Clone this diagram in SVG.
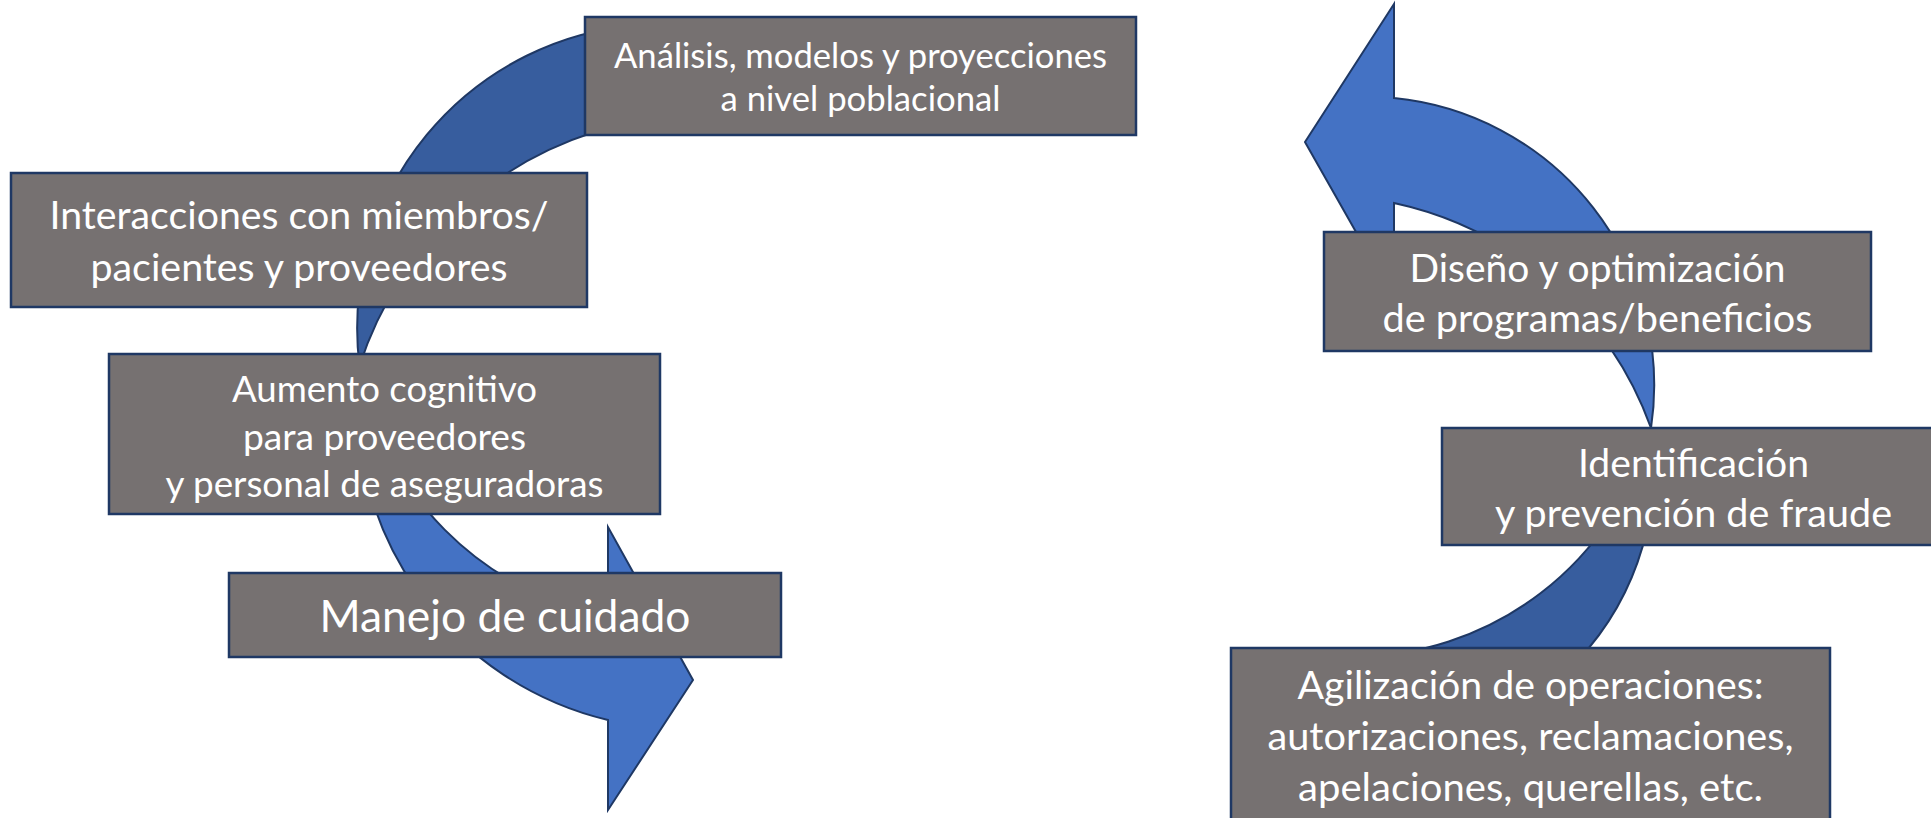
<svg xmlns="http://www.w3.org/2000/svg" width="1931" height="818" viewBox="0 0 1931 818">
<style>
.light{fill:#4472C4;stroke:#1F3864;stroke-width:2;stroke-linejoin:miter}
.dark{fill:#375D9E;stroke:#1F3864;stroke-width:2;stroke-linejoin:miter}
.box{fill:#767171;stroke:#1F3864;stroke-width:2.5}
.t{fill:#FFFFFF;font-family:Lato,"Open Sans","Liberation Sans",sans-serif;text-anchor:middle}
</style>
<rect width="1931" height="818" fill="#FFFFFF"/>
<g id="connectors">
  <path class="dark" d="M640,25 A304.3,304.3 0 0 0 359.5,366 A361.3,361.3 0 0 1 640,120.8 Z"/>
  <path class="light" d="M359.5,366 A326,326 0 0 0 608,720 L608,810 L693,680 L608,527 L608,616.6 A311.4,311.4 0 0 1 359.5,366 Z"/>
  <path class="dark" d="M1651,428 A282,282 0 0 1 1350,749 L1352,656.6 A308,308 0 0 0 1651,428 Z"/>
  <path class="light" d="M1394,4 L1305,142 L1394,299 L1394,203 A352,352 0 0 1 1651,428 A288.5,288.5 0 0 0 1394,98 Z"/>
</g>
<g id="node-analisis">
  <rect class="box" x="585" y="17" width="551" height="118"/>
  <text class="t" font-size="34" x="860.5" y="68" textLength="493" lengthAdjust="spacingAndGlyphs">Análisis, modelos y proyecciones</text>
  <text class="t" font-size="34" x="860.5" y="111" textLength="280" lengthAdjust="spacingAndGlyphs">a nivel poblacional</text>
</g>
<g id="node-interacciones">
  <rect class="box" x="11" y="173" width="576" height="134"/>
  <text class="t" font-size="38.7" x="299" y="229" textLength="499" lengthAdjust="spacingAndGlyphs">Interacciones con miembros/</text>
  <text class="t" font-size="38.7" x="299" y="281" textLength="417" lengthAdjust="spacingAndGlyphs">pacientes y proveedores</text>
</g>
<g id="node-aumento">
  <rect class="box" x="109" y="354" width="551" height="160"/>
  <text class="t" font-size="36.2" x="384.5" y="402" textLength="305" lengthAdjust="spacingAndGlyphs">Aumento cognitivo</text>
  <text class="t" font-size="36.2" x="384.5" y="450" textLength="283" lengthAdjust="spacingAndGlyphs">para proveedores</text>
  <text class="t" font-size="36.2" x="384.5" y="497" textLength="438" lengthAdjust="spacingAndGlyphs">y personal de aseguradoras</text>
</g>
<g id="node-manejo">
  <rect class="box" x="229" y="573" width="552" height="84"/>
  <text class="t" font-size="43.6" x="505" y="632" textLength="371" lengthAdjust="spacingAndGlyphs">Manejo de cuidado</text>
</g>
<g id="node-diseno">
  <rect class="box" x="1324" y="232" width="547" height="119"/>
  <text class="t" font-size="39" x="1597.5" y="282" textLength="376" lengthAdjust="spacingAndGlyphs">Diseño y optimización</text>
  <text class="t" font-size="39" x="1597.5" y="332" textLength="430" lengthAdjust="spacingAndGlyphs">de programas/beneficios</text>
</g>
<g id="node-identificacion">
  <rect class="box" x="1442" y="428" width="510" height="117"/>
  <text class="t" font-size="39" x="1693.5" y="477" textLength="231" lengthAdjust="spacingAndGlyphs">Identificación</text>
  <text class="t" font-size="39" x="1693.5" y="527" textLength="397" lengthAdjust="spacingAndGlyphs">y prevención de fraude</text>
</g>
<g id="node-agilizacion">
  <rect class="box" x="1231" y="648" width="599" height="190"/>
  <text class="t" font-size="39" x="1530.5" y="699" textLength="466" lengthAdjust="spacingAndGlyphs">Agilización de operaciones:</text>
  <text class="t" font-size="39" x="1530.5" y="750" textLength="526" lengthAdjust="spacingAndGlyphs">autorizaciones, reclamaciones,</text>
  <text class="t" font-size="39" x="1530.5" y="801" textLength="465" lengthAdjust="spacingAndGlyphs">apelaciones, querellas, etc.</text>
</g>
</svg>
